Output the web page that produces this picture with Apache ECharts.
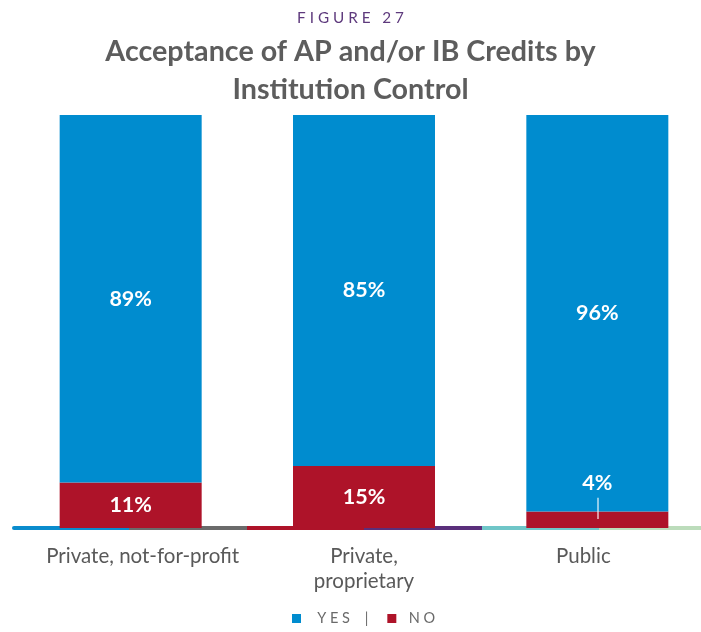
<!DOCTYPE html>
<html>
<head>
<meta charset="utf-8">
<script src="https://cdn.jsdelivr.net/npm/echarts@6/dist/echarts.min.js"></script>
<style>
html,body{margin:0;padding:0;background:#fff;}
#chart{width:701px;height:632px;}
</style>
</head>
<body>
<div id="chart"></div>
<script>
const categories = ['Private, not-for-profit', 'Private,\nproprietary', 'Public'];
const yesValues = [89, 85, 96];
const noValues = [11, 15, 4];
const seriesNames = ['YES', 'NO'];
const figureLabel = 'F I G U R E   2 7';
const titleText = 'Acceptance of AP and/or IB Credits by\nInstitution Control';

const chart = echarts.init(document.getElementById('chart'));
const FONT = 'Lato, "Open Sans", sans-serif';
const BLUE = '#008ccf';
const RED = '#ae1329';

const segColors = ['#0a8ccd', '#6b6b6b', '#ae1329', '#5a2f7b', '#6fc6c8', '#bcdcbb'];
const stops = [];
segColors.forEach((c, i) => {
  stops.push({offset: i / 6, color: c});
  stops.push({offset: (i + 1) / 6, color: c});
});

chart.setOption({
  backgroundColor: '#ffffff',
  animation: false,
  title: [
    {
      text: figureLabel,
      left: 'center', top: 6,
      padding: [5, 0, 5, 25],
      textStyle: {fontFamily: FONT, fontSize: 15.3, fontWeight: 'normal', color: '#5e3a7d'}
    },
    {
      text: titleText,
      left: 'center', top: 28,
      padding: [5, 0, 5, 23],
      textStyle: {fontFamily: FONT, fontSize: 28.7, fontWeight: 'bold', color: '#5d5d5d', lineHeight: 38}
    }
  ],
  legend: {
    data: seriesNames,
    top: 606,
    left: 287,
    itemWidth: 9,
    itemHeight: 9,
    itemGap: 19,
    icon: 'rect',
    formatter: name => name === 'YES' ? '   Y E S    |' : '  N O',
    textStyle: {fontFamily: FONT, fontSize: 14.5, color: '#6a6a6a'}
  },
  grid: {left: 14, width: 700, top: 115, bottom: 104, outerBoundsMode: 'none'},
  xAxis: {
    type: 'category',
    data: categories,
    offset: 2,
    axisTick: {show: false},
    axisLine: {
      show: true,
      lineStyle: {width: 4, color: new echarts.graphic.LinearGradient(0, 0, 1, 0, stops)}
    },
    axisLabel: {
      interval: 0,
      fontFamily: FONT, fontSize: 20.5, color: '#595959', margin: 14, lineHeight: 25,
      formatter: (v, i) => i === 0 ? '{a|' + v + '}' : (i === 2 ? '{c|' + v + '}' : v),
      rich: {
        a: {fontFamily: FONT, fontSize: 20.5, color: '#595959', padding: [0, 0, 0, 24]},
        c: {fontFamily: FONT, fontSize: 20.5, color: '#595959', padding: [0, 28, 0, 0]}
      }
    }
  },
  yAxis: {
    type: 'value', min: 0, max: 100, show: false,
    splitLine: {show: false}
  },
  series: [
    {
      name: 'NO',
      type: 'bar',
      stack: 'total',
      barWidth: 142,
      data: noValues,
      itemStyle: {color: RED},
      label: {
        show: true, position: 'inside', formatter: '{c}%',
        fontFamily: FONT, fontSize: 21.5, fontWeight: 'bold', color: '#ffffff'
      },
      labelLayout: params => params.dataIndex === 2 ? {dy: -37} : {},
      markLine: {
        silent: true,
        symbol: 'none',
        label: {show: false},
        lineStyle: {color: 'rgba(255,255,255,0.75)', width: 1.5, type: 'solid'},
        data: [[{coord: [categories[2], 2.2]}, {coord: [categories[2], 7.3]}]]
      }
    },
    {
      name: 'YES',
      type: 'bar',
      stack: 'total',
      barWidth: 142,
      data: yesValues,
      itemStyle: {color: BLUE},
      label: {
        show: true, position: 'inside', formatter: '{c}%',
        fontFamily: FONT, fontSize: 21.5, fontWeight: 'bold', color: '#ffffff'
      }
    }
  ]
});
</script>
</body>
</html>
